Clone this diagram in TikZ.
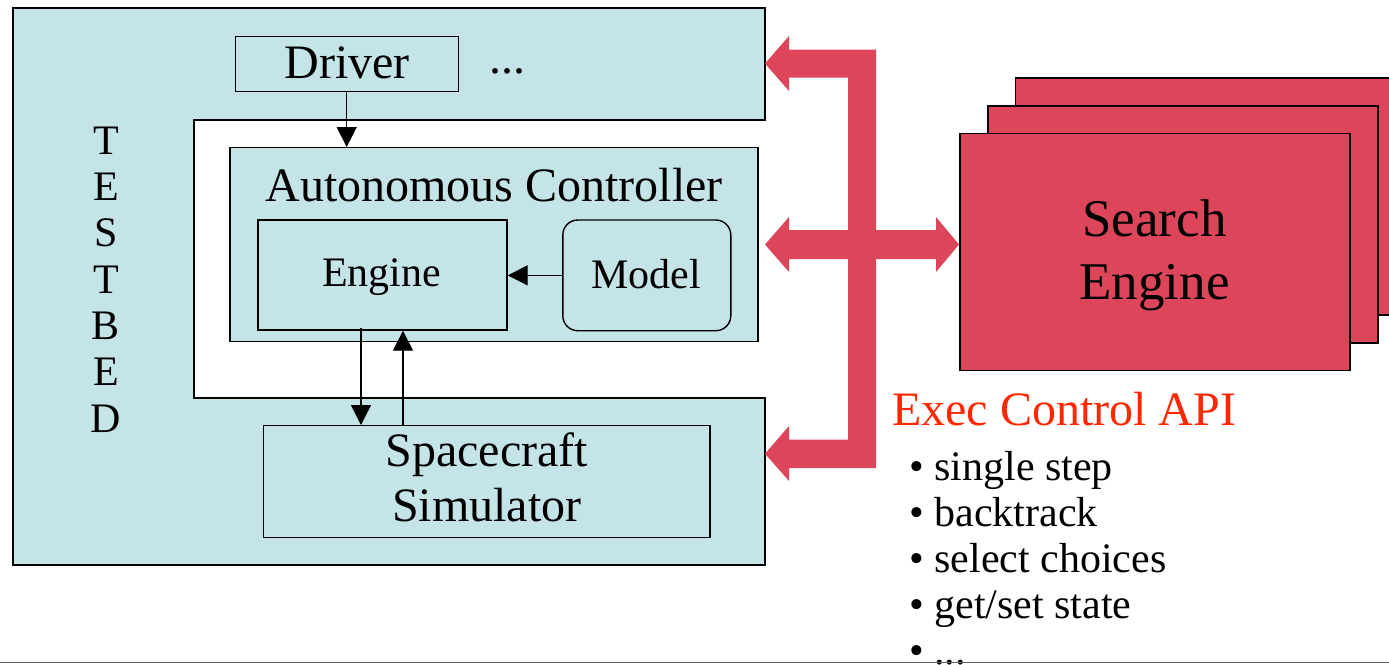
\documentclass[tikz,border=0pt]{standalone}
\usepackage{fontspec}
\setmainfont{Liberation Serif}
\usetikzlibrary{arrows.meta}

\definecolor{bedcyan}{RGB}{197,228,232}
\definecolor{apired}{RGB}{221,70,90}
\definecolor{apilabel}{RGB}{255,38,0}
\definecolor{rulegray}{RGB}{100,100,100}

\begin{document}
\begin{tikzpicture}[x=1pt,y=-1pt,
  box/.style={draw=black, line width=1.4pt, fill=bedcyan, inner sep=0pt},
  searchbox/.style={draw=black, line width=1.6pt, fill=apired, inner sep=0pt,
                    minimum width=390pt, minimum height=237pt},
  lbl/.style={inner sep=0pt, anchor=base},
  big/.style={font=\fontsize{48pt}{50pt}\selectfont},
  mid/.style={font=\fontsize{42pt}{44pt}\selectfont},
  huge/.style={font=\fontsize{53pt}{55pt}\selectfont},
  flow/.style={line width=1.4pt, -{Triangle[length=20pt,width=20pt]}},
]
% canvas
\path[use as bounding box] (0,0) rectangle (1389,664);
\clip (0,0) rectangle (1389,664);
\fill[white] (0,0) rectangle (1389,664);

% testbed frame, open around the controller
\draw[line width=2pt, fill=bedcyan]
  (12.7,8) -- (765,8) -- (765,120) -- (194,120) -- (194,398)
  -- (765,398) -- (765,565) -- (12.7,565) -- cycle;

\foreach \ch [count=\i from 0] in {T,E,S,T,B,E,D}
  \node[lbl, mid] (tb\i) at (106,154.3+46.33*\i) {\ch};

% driver
\node[box, minimum width=223pt, minimum height=55pt] (driver) at (346.7,64.2) {};
\node[lbl, big] (driverlbl) at (347,78.3) {Driver};
\node[lbl, big, anchor=base west] (moredrivers) at (489,73.5) {...};

% autonomous controller
\node[box, minimum width=528pt, minimum height=194pt] (ac) at (494,244.7) {};
\node[lbl, big] (aclbl) at (494,201) {Autonomous Controller};

\node[box, minimum width=249pt, minimum height=110pt] (engine) at (382.5,275) {};
\node[lbl, mid] (enginelbl) at (381.5,286.7) {Engine};

\node[box, rounded corners=15pt, minimum width=168pt, minimum height=110.7pt] (model) at (646.8,275.35) {};
\node[lbl, mid] (modellbl) at (646,288.3) {Model};

% spacecraft simulator
\node[box, minimum width=446.7pt, minimum height=111.6pt] (sim) at (486.6,481.5) {};
\node[lbl, big] (simlbl1) at (486.7,466.7) {Spacecraft};
\node[lbl, big] (simlbl2) at (486.7,521) {Simulator};

% internal data flow
\draw[flow] (driver.south) -- (driver.south |- ac.north);
\draw[flow] (model.west) -- (model.west -| engine.east);
\draw[flow] ([xshift=-21.5pt,yshift=2.5pt]engine.south) -- ([xshift=-21.5pt]engine.south |- sim.north);
\draw[flow] ([xshift=20.5pt]engine.south |- sim.north) -- ([xshift=20.5pt]engine.south);

% execution control bus
\fill[apired]
  (789,49.5) -- (876,49.5) -- (876,230) -- (936,230) -- (936,217)
  -- (959,244.5) -- (936,272) -- (936,259) -- (876,259) -- (876,468)
  -- (789,468) -- (789,481) -- (765,453.7) -- (789,426) -- (789,439.5)
  -- (848,439.5) -- (848,259) -- (789,259) -- (789,272) -- (765,244.5)
  -- (789,217) -- (789,230) -- (848,230) -- (848,77.5) -- (789,77.5)
  -- (789,91) -- (765,63.5) -- (789,36) -- cycle;

% stack of search engines
\node[searchbox] (se3) at (1210.4,196.4) {};
\node[searchbox] (se2) at (1182.7,224.2) {};
\node[searchbox] (se1) at (1155,252) {};
\node[lbl, huge] (selbl1) at (1154.5,236) {Search};
\node[lbl, huge] (selbl2) at (1154.5,299.3) {Engine};

% API description
\node[lbl, big, anchor=base west, text=apilabel] (api) at (892,425.7) {Exec Control API};
\node[lbl, mid, anchor=base west] (op1) at (909,480) {• single step};
\node[lbl, mid, anchor=base west] (op2) at (909,526.5) {• backtrack};
\node[lbl, mid, anchor=base west] (op3) at (909,572.7) {• select choices};
\node[lbl, mid, anchor=base west] (op4) at (909,618.5) {• get/set state};
\node[lbl, mid, anchor=base west] (op5) at (909,664.5) {• ...};

% footer rule
\draw[rulegray, line width=1.3pt] (0,662.7) -- (1389,662.7);
\end{tikzpicture}
\end{document}
